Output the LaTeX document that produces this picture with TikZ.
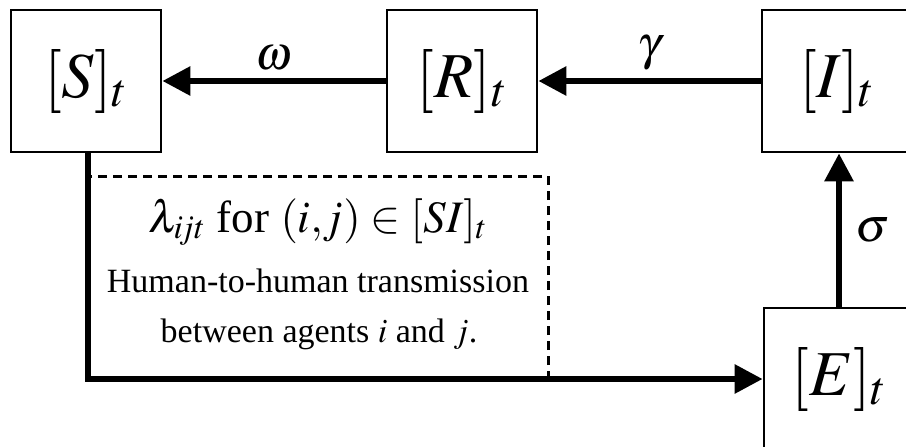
\documentclass[tikz,border=0pt]{standalone}
\usepackage{mathptmx}
\usepackage{fontspec}
\setmainfont{Liberation Serif}
\usetikzlibrary{arrows.meta, positioning}
\tikzset{
    compartment/.style={rectangle, draw, line width=2.8pt, minimum width=150pt, minimum height=142pt, font=\fontsize{64}{66}\selectfont},
    flow/.style={line width=6pt, -{Triangle[length=28pt, width=28pt]}},
    rate/.style={font=\fontsize{48}{50}\selectfont},
    note/.style={draw, line width=3pt, dash pattern=on 9pt off 6pt},
    headline/.style={anchor=base, inner sep=0pt, font=\fontsize{45}{47}\selectfont},
    desc/.style={anchor=base, inner sep=0pt, font=\fontsize{34}{36}\selectfont}
}
\begin{document}
\begin{tikzpicture}[x=1pt, y=-1pt]
    \useasboundingbox (0,0) rectangle (906,447);
    \node[compartment] (S) at (86,81) {$[S]_t$};
    \node[compartment] (R) at (462,81) {$[R]_t$};
    \node[compartment] (I) at (837,81) {$[I]_t$};
    \node[compartment] (E) at (839,379) {$[E]_t$};

    % transmission zone
    \coordinate (zonetl) at (88,176);
    \coordinate (zonebr) at (548,378);
    \draw[note] (zonetl) rectangle (zonebr);
    \node[headline] (lambda) at (318,232) {$\lambda_{i\mkern-2mu jt}$ for $(i,\!j)\in[SI]_t$};
    \node[desc] (desc1) at (318,292) {Human-to-human transmission};
    \node[desc] (desc2) at (319,342) {between agents $i$ and $j$.};

    \draw[flow] (R) -- node[rate, above=4pt] {$\omega$} (S);
    \draw[flow] (I) -- node[rate, above=4pt] {$\gamma$} (R);
    \draw[flow] (E.north) -- node[rate, right=10pt] {$\sigma$} (E.north |- I.south);
    \draw[flow] (zonetl |- S.south) |- (E.west);
\end{tikzpicture}
\end{document}
